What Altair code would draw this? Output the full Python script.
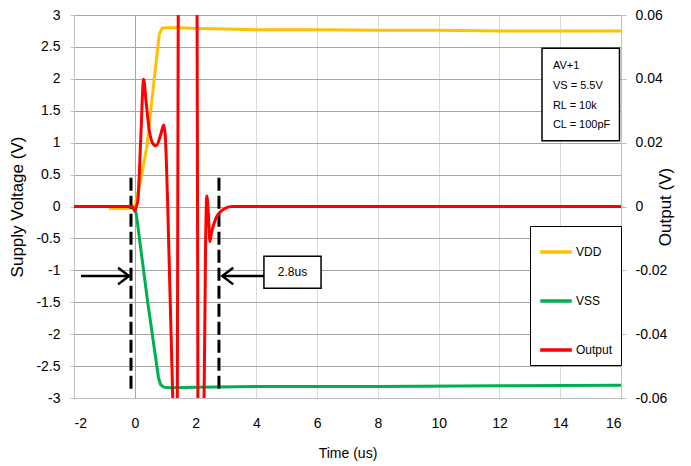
import altair as alt
import pandas as pd

# ---------------- data ----------------
vdd_t = [-0.85, -0.10, 0.00, 0.23, 0.40, 0.64, 0.81, 0.90, 1.0, 1.5, 2.0, 3.0, 4.0, 6.0, 8.0, 10.0, 12.0, 14.0, 16.0]
vdd_v = [-0.03, -0.03, 0.00, 0.50, 0.95, 2.00, 2.70, 2.79, 2.80, 2.80, 2.79, 2.78, 2.77, 2.77, 2.76, 2.76, 2.75, 2.75, 2.75]

vss_t = [0.00, 0.05, 0.42, 0.78, 0.85, 0.95, 1.2, 2.0, 4.0, 8.0, 12.0, 16.0]
vss_v = [-0.02, -0.12, -1.48, -2.68, -2.79, -2.83, -2.84, -2.83, -2.82, -2.82, -2.81, -2.80]

out_t = [-2.0, -1.0, -0.30, -0.08, 0.00, 0.05, 0.10, 0.20, 0.29, 0.37, 0.48, 0.58, 0.70, 0.86, 0.95, 1.00, 1.08,
         1.25, 1.33, 1.40, 1.43, 1.70, 2.05, 2.08, 2.18, 2.28, 2.33, 2.37, 2.42, 2.475, 2.53, 2.62, 2.78,
         3.2, 4.0, 6.0, 8.0, 10.0, 12.0, 14.0, 16.0]
out_v = [0.0, 0.0, 0.0, 0.0, -0.0014, 0.0, 0.0017, 0.022, 0.0399, 0.033, 0.0237, 0.0200, 0.019, 0.0227, 0.0255, 0.0227, 0.0017,
         -0.060, -0.080, -0.060, 0.060, 0.120, 0.060, -0.060, -0.080, -0.060, -0.012, 0.0033, -0.002, -0.011, -0.008, -0.005, -0.002,
         0.0, 0.0, 0.0, 0.0, 0.0, 0.0, 0.0, 0.0]

series_names = ["VDD", "VSS", "Output"]
series_colors = ["#FFC000", "#00B050", "#FF0000"]

x_ticks = [-2, 0, 2, 4, 6, 8, 10, 12, 14, 16]
left_ticks = [-3, -2.5, -2, -1.5, -1, -0.5, 0, 0.5, 1, 1.5, 2, 2.5, 3]
right_ticks = [-0.06, -0.04, -0.02, 0, 0.02, 0.04, 0.06]

info_lines = ["AV+1", "VS = 5.5V", "RL = 10k", "CL = 100pF"]
interval_label = "2.8us"
marker_t = [-0.125, 2.77]

FONT = "Liberation Sans"
PLAIN = "'' + datum.value"

# ---------------- frames ----------------
supply_df = pd.concat([
    pd.DataFrame({"t": vdd_t, "y": vdd_v, "series": "VDD"}),
    pd.DataFrame({"t": vss_t, "y": vss_v, "series": "VSS"}),
])
out_df = pd.DataFrame({"t": out_t, "v": out_v, "series": "Output"})

x_scale = alt.Scale(domain=[-2, 16], nice=False, zero=False)
left_scale = alt.Scale(domain=[-3, 3], nice=False, zero=False)
right_scale = alt.Scale(domain=[-0.06, 0.06], nice=False, zero=False)
color_scale = alt.Scale(domain=series_names, range=series_colors)

x_axis = alt.Axis(
    title="Time (us)", values=x_ticks, grid=True, labelExpr=PLAIN,
    gridColor=alt.condition("datum.value == 0", alt.value("#a6a6a6"), alt.value("#d9d9d9")),
    ticks=False, labelPadding=18, titlePadding=16, domainColor="#bfbfbf",
    labelFontSize=14, titleFontSize=14,
)
left_axis = alt.Axis(
    title="Supply Voltage (V)", values=left_ticks, grid=True, gridColor="#a6a6a6", labelExpr=PLAIN,
    tickSize=4, tickColor="#bfbfbf", labelPadding=10, titlePadding=9, domainColor="#bfbfbf",
    labelFontSize=14, titleFontSize=17, orient="left",
)
right_axis = alt.Axis(
    title="Output (V)", values=right_ticks, grid=False, orient="right", labelExpr=PLAIN,
    tickSize=5, tickColor="#bfbfbf", labelPadding=9, titlePadding=8, domainColor="#bfbfbf",
    labelFontSize=14, titleFontSize=17, titleAngle=270,
)

X = lambda f: alt.X(f, type="quantitative", scale=x_scale, axis=x_axis)
YL = lambda f: alt.Y(f, type="quantitative", scale=left_scale, axis=left_axis)

legend = alt.Legend(
    title=None, orient="none", legendX=456, legendY=211,
    strokeColor="black", fillColor="white", padding=8,
    symbolType="stroke", symbolSize=1000, symbolStrokeWidth=3.5,
    labelFontSize=12, labelFont=FONT, rowPadding=24, labelOffset=2,
)

supply = alt.Chart(supply_df).mark_line(strokeWidth=3, clip=True).encode(
    x=X("t"), y=YL("y"),
    color=alt.Color("series:N", scale=color_scale, legend=legend),
    detail="series:N",
)

# dashed markers
mark_df = pd.DataFrame({"t": marker_t, "y1": [0.45, 0.45], "y2": [-2.92, -2.92]})
markers = alt.Chart(mark_df).mark_rule(color="black", strokeWidth=3, strokeDash=[13, 5]).encode(
    x=X("t"), y=YL("y1"), y2="y2"
)

# arrows (shaft + open heads)
ay = -1.09
arrow_df = pd.DataFrame({
    "t": [-1.77, -0.19, -0.55, -0.19, -0.55, 4.25, 2.88, 3.24, 2.88, 3.24],
    "y": [ay, ay, ay + 0.13, ay, ay - 0.13, ay, ay, ay + 0.13, ay, ay - 0.13],
    "g": ["a", "a", "ah", "ah", "ah", "b", "b", "bh", "bh", "bh"],
    "o": [0, 1, 0, 1, 2, 0, 1, 0, 1, 2],
})
arrows = alt.Chart(arrow_df).mark_line(color="black", strokeWidth=2.5).encode(
    x=X("t"), y=YL("y"), detail="g:N", order="o:Q"
)

# label boxes
box_df = pd.DataFrame({"x1": [4.25, 13.4], "x2": [6.13, 15.95], "y1": [-0.78, 2.48], "y2": [-1.28, 1.03]})
boxes = alt.Chart(box_df).mark_rect(fill="white", stroke="black", strokeWidth=1.5).encode(
    x=X("x1"), x2="x2", y=YL("y1"), y2="y2"
)

interval_text = alt.Chart(pd.DataFrame({"t": [5.19], "y": [-1.03], "s": [interval_label]})).mark_text(
    font=FONT, fontSize=12, color="black"
).encode(x=X("t"), y=YL("y"), text="s:N")

info_df = pd.DataFrame({"t": [13.76] * len(info_lines),
                        "y": [2.20 - i * 0.31 for i in range(len(info_lines))],
                        "s": info_lines})
info_text = alt.Chart(info_df).mark_text(font=FONT, fontSize=11, color="black", align="left").encode(
    x=X("t"), y=YL("y"), text="s:N"
)

left_group = alt.layer(supply, markers, boxes, interval_text, info_text, arrows)

output = alt.Chart(out_df).mark_line(strokeWidth=3, clip=True, interpolate="monotone").encode(
    x=X("t"),
    y=alt.Y("v:Q", scale=right_scale, axis=right_axis),
    color=alt.Color("series:N", scale=color_scale, legend=legend),
)

chart = alt.layer(left_group, output).resolve_scale(y="independent").properties(
    width=547, height=383,
    padding={"left": 0, "top": 0, "right": 5, "bottom": 5},
).configure_view(stroke=None).configure_axis(
    labelFont=FONT, titleFont=FONT, labelColor="black", titleColor="black",
    titleFontWeight="normal",
)

chart.save("out.html", embed_options={"renderer": "svg", "actions": False})
